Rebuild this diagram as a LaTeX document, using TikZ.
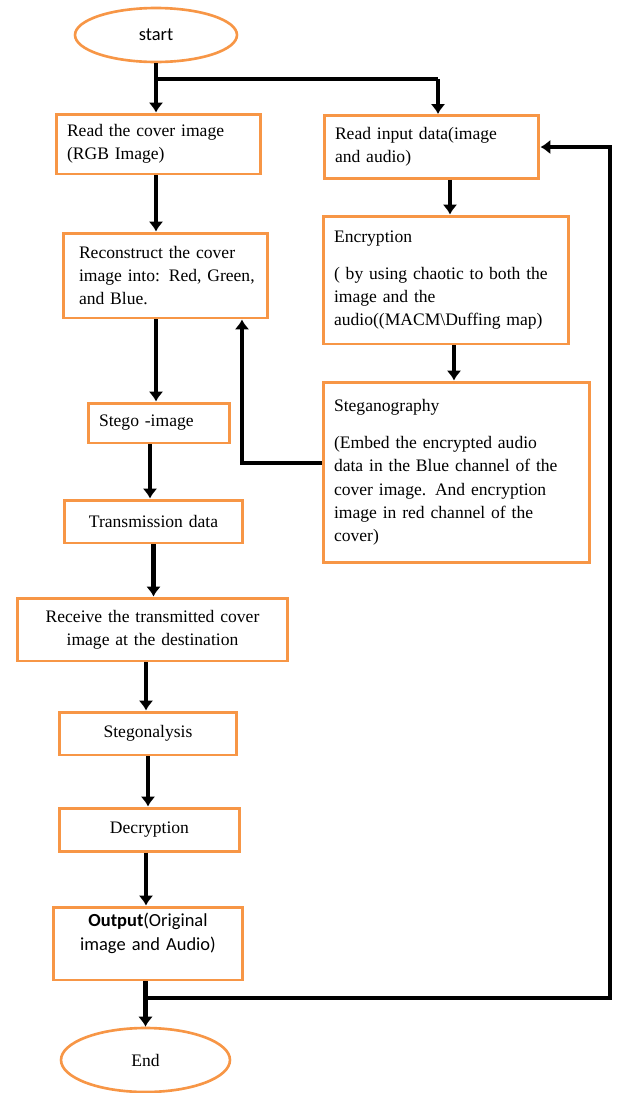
\documentclass[tikz,border=0pt]{standalone}
\usepackage{fontspec}
\setmainfont{Liberation Serif}
\newfontfamily\calibri{Carlito}
\usetikzlibrary{arrows.meta, shapes.geometric}
\definecolor{boxorange}{RGB}{247,150,70}
\tikzset{>={Latex[length=2mm,width=3mm]}}
\tikzset{
  stepbox/.style={draw=boxorange, line width=1.7pt, fill=white, inner xsep=0.22cm, inner ysep=0pt, align=left, font=\fontsize{10}{13.3}\selectfont},
  midbox/.style={stepbox, align=center},
  term/.style={ellipse, draw=boxorange, line width=1.5pt, inner sep=0pt, font=\fontsize{10}{13.3}\selectfont},
  flow/.style={->, line width=2.8pt},
  wire/.style={line width=2.8pt}
}

\begin{document}
\begin{tikzpicture}[x=0.02cm, y=-0.02cm]
    \useasboundingbox (0,0) rectangle (625,1093);
    \node[term, minimum width=3.24cm, minimum height=1.08cm, font=\calibri\fontsize{10.5}{13.3}\selectfont] (start) at (156,35) {start};
    \node[stepbox, text width=3.66cm, minimum height=1.2cm] (rcover) at (158.5,144) {Read the cover image\\(RGB Image)};
    \node[stepbox, text width=3.86cm, minimum height=1.26cm] (rinput) at (431.5,147) {Read input data(image\\and audio)};
    \node[stepbox, text width=3.66cm, minimum height=1.7cm, inner xsep=0.22cm] (recon) at (165.5,275.5) {\hspace*{0.1cm}Reconstruct the cover\\\hspace*{0.1cm}image into: Red, Green,\\\hspace*{0.1cm}and Blue.};
    \node[stepbox, text width=4.48cm, minimum height=2.56cm] (encr) at (446,280) {Encryption\\[7.7pt]( by using chaotic to both the\\image and the\\audio((MACM\textbackslash Duffing map)};
    \node[stepbox, text width=4.9cm, minimum height=3.62cm] (steg) at (456.5,472.5) {Steganography\\[7.7pt](Embed the encrypted audio\\data in the Blue channel of the\\cover image. And encryption\\image in red channel of the\\cover)};
    \node[stepbox, text width=2.4cm, minimum height=0.8cm] (stego) at (159,423) {Stego -image};
    \node[midbox, text width=3.14cm, minimum height=0.86cm] (trans) at (153.5,521.5) {Transmission data};
    \node[midbox, text width=4.98cm, minimum height=1.26cm] (recv) at (152.5,629.5) {Receive the transmitted cover\\image at the destination};
    \node[midbox, text width=3.12cm, minimum height=0.86cm] (stegan) at (148,733.5) {Stegonalysis};
    \node[midbox, text width=3.18cm, minimum height=0.86cm] (decr) at (149.5,829.5) {Decryption};
    \node[midbox, text width=3.36cm, minimum height=1.46cm, font=\calibri\fontsize{10.5}{13.3}\selectfont] (out) at (148,943.5) {\textbf{Output}(Original\\image and Audio)\\ \mbox{}};
    \node[term, minimum width=3.38cm, minimum height=1.28cm] (finish) at (145.5,1060) {End};

    \coordinate (split) at (156,79);
    \coordinate (splitr) at (438,79);
    \coordinate (fork) at (146,998);
    \coordinate (corner) at (610,998);

    \draw[flow] (start.south) -- (start.south |- rcover.north);
    \draw[wire] (split) -- (splitr);
    \draw[flow] (splitr) -- (splitr |- rinput.north);
    \draw[flow] ([xshift=-0.05cm]rcover.south) -- ([xshift=-0.05cm]rcover.south |- recon.north);
    \draw[flow] ([xshift=0.37cm]rinput.south) -- ([xshift=0.37cm]rinput.south |- encr.north);
    \draw[flow] ([xshift=0.16cm]encr.south) -- ([xshift=0.16cm]encr.south |- steg.north);
    \draw[flow] ([yshift=0.19cm]steg.west) -| ([xshift=1.53cm]recon.south);
    \draw[flow] ([xshift=-0.19cm]recon.south) -- ([xshift=-0.19cm]recon.south |- stego.north);
    \draw[flow] ([xshift=-0.18cm]stego.south) -- ([xshift=-0.18cm]stego.south |- trans.north);
    \draw[flow] (trans.south) -- (trans.south |- recv.north);
    \draw[flow] ([xshift=-0.13cm]recv.south) -- ([xshift=-0.13cm]recv.south |- stegan.north);
    \draw[flow] (stegan.south) -- (stegan.south |- decr.north);
    \draw[flow] ([xshift=-0.07cm]decr.south) -- ([xshift=-0.07cm]decr.south |- out.north);
    \draw[flow] ([xshift=-0.05cm]out.south) -- ([xshift=-0.05cm]out.south |- finish.north);
    \draw[flow] (fork) -- (corner) |- (rinput.east);
\end{tikzpicture}
\end{document}
